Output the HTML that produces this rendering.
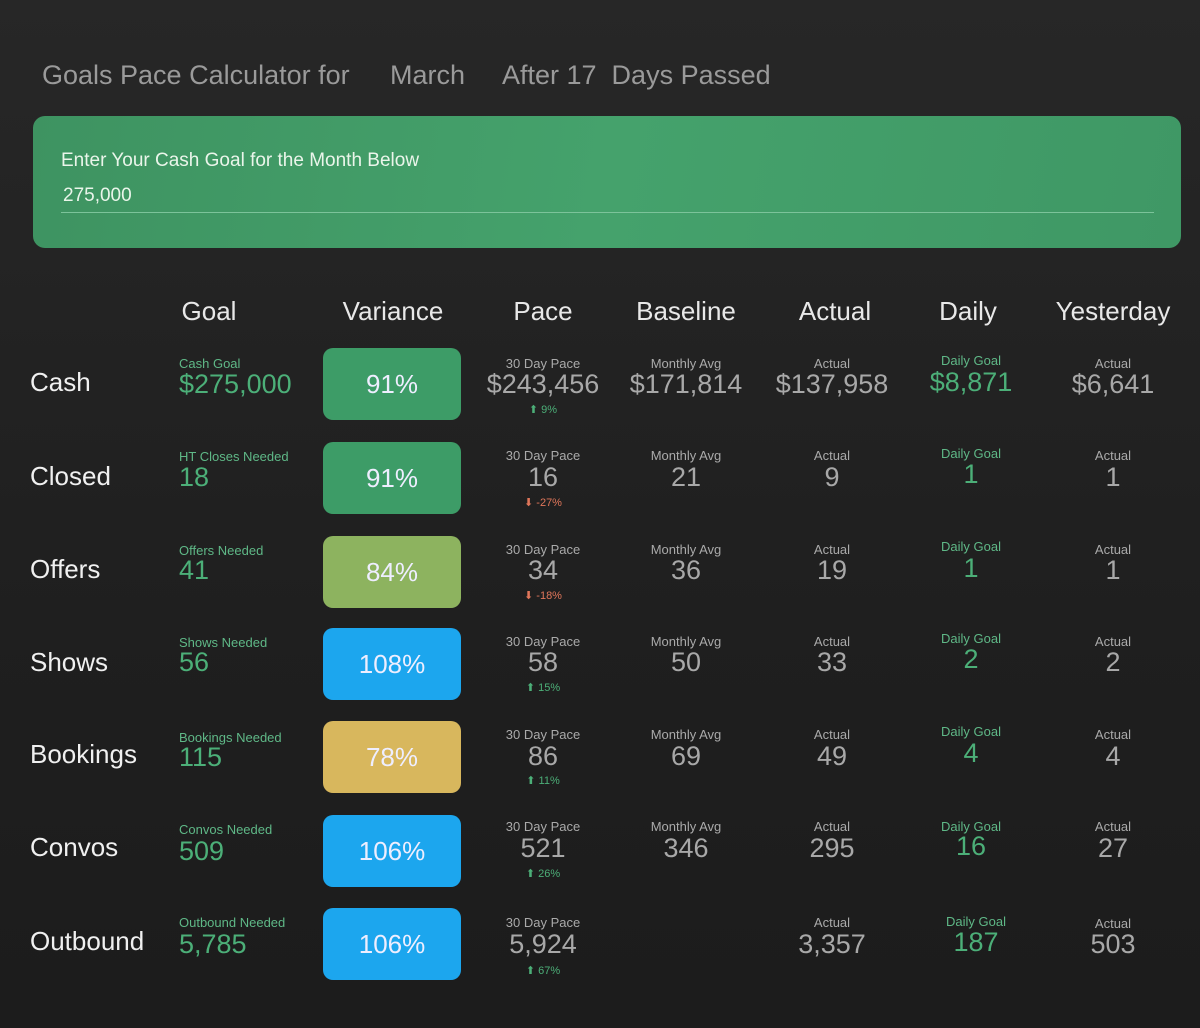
<!DOCTYPE html><html><head><meta charset="utf-8"><style>
body{margin:0;width:1200px;height:1028px;overflow:hidden;background:linear-gradient(#272727,#1f1f1f 60%,#1c1c1c);font-family:"Liberation Sans",Arial,Helvetica,sans-serif;position:relative}
div{position:absolute;white-space:nowrap}
.t{color:#9a9a9a;font-size:27px;top:60px}
.h{color:#e8e8e8;font-size:26px;top:296px;width:160px;text-align:center}
.r{color:#f0f0f0;font-size:26px;left:30px}
.s{font-size:13px;color:#aaa;width:160px;text-align:center}
.v{font-size:27px;color:#a8a8a8;width:160px;text-align:center}
.a{font-size:11px;width:160px;text-align:center}
.g{color:#4caf78}.gs{color:#5fb887}
.up{color:#4caf78}.dn{color:#e0765a}
.l{text-align:left!important;width:auto!important}
.b{left:323px;width:138px;height:72px;border-radius:10px;color:#eef;font-size:26px;line-height:72px;text-align:center}
</style></head><body>
<div class="t" style="left:42px">Goals Pace Calculator for</div>
<div class="t" style="left:390px">March</div>
<div class="t" style="left:502px">After 17&nbsp; Days Passed</div>
<div style="left:33px;top:116px;width:1148px;height:132px;border-radius:12px;background:linear-gradient(100deg,#3e9361,#45a26c 50%,#3f9865)"></div>
<div style="left:61px;top:150px;color:#eaf5ea;font-size:19px">Enter Your Cash Goal for the Month Below</div>
<div style="left:63px;top:185px;color:#eaf5ea;font-size:19px">275,000</div>
<div style="left:61px;top:212px;width:1093px;height:1px;background:#7cc39a"></div>
<div class="h" style="left:129px">Goal</div>
<div class="h" style="left:313px">Variance</div>
<div class="h" style="left:463px">Pace</div>
<div class="h" style="left:606px">Baseline</div>
<div class="h" style="left:755px">Actual</div>
<div class="h" style="left:888px">Daily</div>
<div class="h" style="left:1033px">Yesterday</div>

<div class="r" style="top:367px">Cash</div>
<div class="s gs l" style="left:179px;top:356px">Cash Goal</div>
<div class="v g l" style="left:179px;top:369px">$275,000</div>
<div class="b" style="top:348px;background:#3d9c67">91%</div>
<div class="s" style="left:463px;top:356px">30 Day Pace</div><div class="v" style="left:463px;top:369px">$243,456</div><div class="a up" style="left:463px;top:403px">⬆ 9%</div>
<div class="s" style="left:606px;top:356px">Monthly Avg</div><div class="v" style="left:606px;top:369px">$171,814</div>
<div class="s" style="left:752px;top:356px">Actual</div><div class="v" style="left:752px;top:369px">$137,958</div>
<div class="s gs" style="left:891px;top:353px">Daily Goal</div><div class="v g" style="left:891px;top:367px">$8,871</div>
<div class="s" style="left:1033px;top:356px">Actual</div><div class="v" style="left:1033px;top:369px">$6,641</div>

<div class="r" style="top:461px">Closed</div>
<div class="s gs l" style="left:179px;top:449px">HT Closes Needed</div>
<div class="v g l" style="left:179px;top:462px">18</div>
<div class="b" style="top:442px;background:#3d9c67">91%</div>
<div class="s" style="left:463px;top:448px">30 Day Pace</div><div class="v" style="left:463px;top:462px">16</div><div class="a dn" style="left:463px;top:496px">⬇ -27%</div>
<div class="s" style="left:606px;top:448px">Monthly Avg</div><div class="v" style="left:606px;top:462px">21</div>
<div class="s" style="left:752px;top:448px">Actual</div><div class="v" style="left:752px;top:462px">9</div>
<div class="s gs" style="left:891px;top:446px">Daily Goal</div><div class="v g" style="left:891px;top:459px">1</div>
<div class="s" style="left:1033px;top:448px">Actual</div><div class="v" style="left:1033px;top:462px">1</div>

<div class="r" style="top:554px">Offers</div>
<div class="s gs l" style="left:179px;top:543px">Offers Needed</div>
<div class="v g l" style="left:179px;top:555px">41</div>
<div class="b" style="top:536px;background:#8db35f">84%</div>
<div class="s" style="left:463px;top:542px">30 Day Pace</div><div class="v" style="left:463px;top:555px">34</div><div class="a dn" style="left:463px;top:589px">⬇ -18%</div>
<div class="s" style="left:606px;top:542px">Monthly Avg</div><div class="v" style="left:606px;top:555px">36</div>
<div class="s" style="left:752px;top:542px">Actual</div><div class="v" style="left:752px;top:555px">19</div>
<div class="s gs" style="left:891px;top:539px">Daily Goal</div><div class="v g" style="left:891px;top:553px">1</div>
<div class="s" style="left:1033px;top:542px">Actual</div><div class="v" style="left:1033px;top:555px">1</div>

<div class="r" style="top:647px">Shows</div>
<div class="s gs l" style="left:179px;top:635px">Shows Needed</div>
<div class="v g l" style="left:179px;top:647px">56</div>
<div class="b" style="top:628px;background:#1ca6ee">108%</div>
<div class="s" style="left:463px;top:634px">30 Day Pace</div><div class="v" style="left:463px;top:647px">58</div><div class="a up" style="left:463px;top:681px">⬆ 15%</div>
<div class="s" style="left:606px;top:634px">Monthly Avg</div><div class="v" style="left:606px;top:647px">50</div>
<div class="s" style="left:752px;top:634px">Actual</div><div class="v" style="left:752px;top:647px">33</div>
<div class="s gs" style="left:891px;top:631px">Daily Goal</div><div class="v g" style="left:891px;top:644px">2</div>
<div class="s" style="left:1033px;top:634px">Actual</div><div class="v" style="left:1033px;top:647px">2</div>

<div class="r" style="top:739px">Bookings</div>
<div class="s gs l" style="left:179px;top:730px">Bookings Needed</div>
<div class="v g l" style="left:179px;top:742px">115</div>
<div class="b" style="top:721px;background:#d8b75d">78%</div>
<div class="s" style="left:463px;top:727px">30 Day Pace</div><div class="v" style="left:463px;top:741px">86</div><div class="a up" style="left:463px;top:774px">⬆ 11%</div>
<div class="s" style="left:606px;top:727px">Monthly Avg</div><div class="v" style="left:606px;top:741px">69</div>
<div class="s" style="left:752px;top:727px">Actual</div><div class="v" style="left:752px;top:741px">49</div>
<div class="s gs" style="left:891px;top:724px">Daily Goal</div><div class="v g" style="left:891px;top:738px">4</div>
<div class="s" style="left:1033px;top:727px">Actual</div><div class="v" style="left:1033px;top:741px">4</div>

<div class="r" style="top:832px">Convos</div>
<div class="s gs l" style="left:179px;top:822px">Convos Needed</div>
<div class="v g l" style="left:179px;top:836px">509</div>
<div class="b" style="top:815px;background:#1ca6ee">106%</div>
<div class="s" style="left:463px;top:819px">30 Day Pace</div><div class="v" style="left:463px;top:833px">521</div><div class="a up" style="left:463px;top:867px">⬆ 26%</div>
<div class="s" style="left:606px;top:819px">Monthly Avg</div><div class="v" style="left:606px;top:833px">346</div>
<div class="s" style="left:752px;top:819px">Actual</div><div class="v" style="left:752px;top:833px">295</div>
<div class="s gs" style="left:891px;top:819px">Daily Goal</div><div class="v g" style="left:891px;top:831px">16</div>
<div class="s" style="left:1033px;top:819px">Actual</div><div class="v" style="left:1033px;top:833px">27</div>

<div class="r" style="top:926px">Outbound</div>
<div class="s gs l" style="left:179px;top:915px">Outbound Needed</div>
<div class="v g l" style="left:179px;top:929px">5,785</div>
<div class="b" style="top:908px;background:#1ca6ee">106%</div>
<div class="s" style="left:463px;top:915px">30 Day Pace</div><div class="v" style="left:463px;top:929px">5,924</div><div class="a up" style="left:463px;top:964px">⬆ 67%</div>
<div class="s" style="left:752px;top:915px">Actual</div><div class="v" style="left:752px;top:929px">3,357</div>
<div class="s gs" style="left:896px;top:914px">Daily Goal</div><div class="v g" style="left:896px;top:927px">187</div>
<div class="s" style="left:1033px;top:916px">Actual</div><div class="v" style="left:1033px;top:929px">503</div>
</body></html>
